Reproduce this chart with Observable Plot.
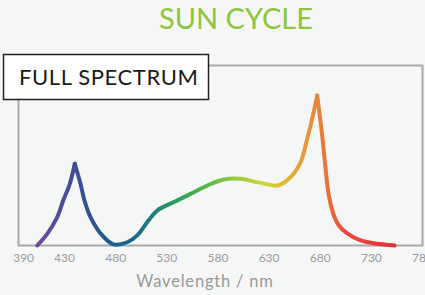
<!DOCTYPE html>
<html><head><meta charset="utf-8">
<script src="https://cdn.jsdelivr.net/npm/d3@7"></script>
<script src="https://cdn.jsdelivr.net/npm/@observablehq/plot@0.6"></script>
<style>
html,body{margin:0;padding:0;background:#f5f7f6;}
#chart{width:425px;height:295px;overflow:hidden;}
</style></head>
<body><div id="chart"></div>
<script>
const title = "SUN CYCLE";
const boxLabel = "FULL SPECTRUM";
const xLabel = "Wavelength / nm";
const tickValues = [390, 430, 480, 530, 580, 630, 680, 730, 780];
const wavelength = [403.3, 413.1, 422.8, 428.7, 435.2, 440.0, 445.6, 449.5, 455.4, 465.2, 477.9, 491.3, 501.1, 512.1, 520.6, 536.8, 553.2, 569.5, 585.7, 602.0, 618.4, 626.5, 638.2, 650.9, 660.7, 667.3, 672.2, 677.0, 681.9, 685.2, 688.4, 693.3, 698.2, 706.4, 719.4, 738.0, 752.6];
const intensity = [0, 6.5, 15.7, 25, 34.3, 45.4, 34.3, 25, 15.7, 6.7, 0.6, 1.8, 5.6, 13.9, 19.4, 24.1, 28.7, 33.3, 36.7, 37.1, 35.2, 34.2, 33.3, 37.9, 46.1, 59.4, 70.6, 83.3, 61.1, 42.8, 27.8, 16.7, 11.1, 6.7, 2.8, 0.8, 0];
const peaks = [440.0, 677.0];

// split at the sharp peaks so each piece is smoothed but the peaks stay pointed
const data = [];
wavelength.forEach((w, i) => {
  const seg = peaks.filter(p => w > p).length;
  data.push({w, v: intensity[i], seg});
  if (peaks.includes(w)) data.push({w, v: intensity[i], seg: seg + 1});
});

const stops = [
  [403.3, "#6b4c9e"], [440, "#3d4f96"], [470, "#1f5b8c"], [495, "#1b6a88"],
  [515, "#1f7d7c"], [540, "#2c9f60"], [570, "#5cb848"], [595, "#98c83e"],
  [625, "#cdd63a"], [645, "#dfba33"], [665, "#e6993a"], [677, "#e8843a"],
  [690, "#ea6a3a"], [705, "#ea4a3a"], [752.6, "#e8303a"]
];

const svg = Plot.plot({
  width: 425,
  height: 295,
  marginTop: 65,
  marginBottom: 50,
  marginLeft: 18,
  marginRight: 3,
  style: {background: "#f5f7f6", fontFamily: "Lato, sans-serif", fontSize: "12px", color: "#9a9a9a"},
  x: {domain: [385, 780], ticks: tickValues, tickSize: 0, tickPadding: 8, label: null},
  y: {domain: [0, 100], axis: null},
  marks: [
    Plot.frame({stroke: "#aaaaaa", strokeWidth: 2}),
    Plot.line(data, {x: "w", y: "v", z: "seg", stroke: "#000", strokeWidth: 4, curve: "catmull-rom"})
  ]
});

const xs = svg.scale("x");
const x0 = xs.apply(stops[0][0]), x1 = xs.apply(stops[stops.length - 1][0]);
const s = d3.select(svg);
const grad = s.insert("defs", ":first-child").append("linearGradient")
  .attr("id", "specgrad").attr("gradientUnits", "userSpaceOnUse")
  .attr("x1", x0).attr("x2", x1).attr("y1", 0).attr("y2", 0);
stops.forEach(([w, c]) => grad.append("stop").attr("offset", (xs.apply(w) - x0) / (x1 - x0)).attr("stop-color", c));
s.selectAll('g[aria-label="line"] path').attr("stroke", "url(#specgrad)");

s.append("text").attr("x", 236).attr("y", 29).attr("text-anchor", "middle")
  .attr("font-family", "Lato, sans-serif").attr("font-size", 29).attr("fill", "#8cc63f").text(title);
s.append("rect").attr("x", 3.5).attr("y", 54.5).attr("width", 205).attr("height", 45)
  .attr("fill", "#fff").attr("stroke", "#222").attr("stroke-width", 1.5);
s.append("text").attr("x", 19).attr("y", 85).attr("text-anchor", "start")
  .attr("font-family", "Lato, sans-serif").attr("font-size", 22).attr("fill", "#1a1a1a")
  .attr("letter-spacing", 0.6).text(boxLabel);
s.append("text").attr("x", 205).attr("y", 287).attr("text-anchor", "middle")
  .attr("font-family", "Lato, sans-serif").attr("font-size", 16.5).attr("fill", "#999")
  .attr("letter-spacing", 0.8).text(xLabel);

document.getElementById("chart").appendChild(svg);
</script></body></html>
